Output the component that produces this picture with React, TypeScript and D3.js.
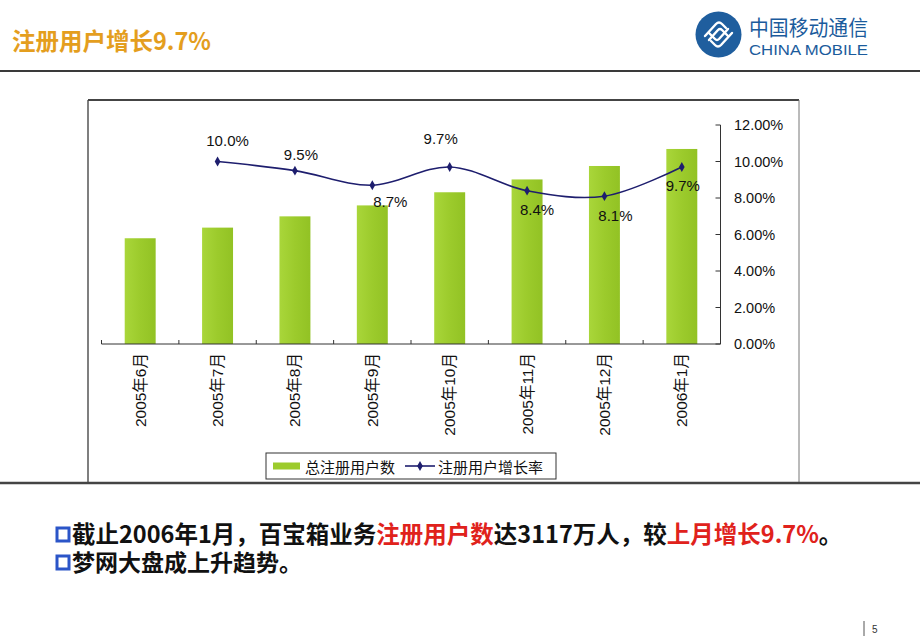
import React from "react";
import * as d3 from "d3";

const categories = ["2005年6月", "2005年7月", "2005年8月", "2005年9月", "2005年10月", "2005年11月", "2005年12月", "2006年1月"];
const totalUsers = [1690, 1860, 2040, 2215, 2425, 2630, 2845, 3117];
const growthRate: (number | null)[] = [null, 0.100, 0.095, 0.087, 0.097, 0.084, 0.081, 0.097];
const growthLabels = ["", "10.0%", "9.5%", "8.7%", "9.7%", "8.4%", "8.1%", "9.7%"];
const rateTicks = [0, 0.02, 0.04, 0.06, 0.08, 0.10, 0.12];
// label offsets (dx, dy) relative to each point, as placed in the original
const labelOffsets: [number, number][] = [[0, 0], [10, -21], [6, -16], [18, 16], [-9, -28], [10, 19], [11, 19], [1, 19]];

const W = 920, H = 637;
const plotLeft = 101.5, plotRight = 720.5, plotBottom = 344, plotTop = 125;
const sansFont = "'Liberation Sans', Arial, 'Noto Sans CJK SC', sans-serif";
const cjkFont = "'Noto Sans CJK SC', 'Noto Sans', sans-serif";
const barColor = "#9CCB2C";
const lineColor = "#1E1E6E";

export default function App() {
  const x = d3.scaleBand<string>().domain(categories).range([plotLeft, plotRight]).paddingInner(0.6).paddingOuter(0.3);
  const yBar = d3.scaleLinear().domain([0, 3500]).range([plotBottom, plotTop]);
  const yRate = d3.scaleLinear().domain([0, 0.12]).range([plotBottom, plotTop]);
  const step = x.step();
  const cx = (c: string) => (x(c) as number) + x.bandwidth() / 2;

  const pts = categories
    .map((c, i) => ({ c, i, v: growthRate[i] }))
    .filter((d) => d.v !== null) as { c: string; i: number; v: number }[];
  const lineGen = d3
    .line<{ c: string; v: number }>()
    .x((d) => cx(d.c))
    .y((d) => yRate(d.v))
    .curve(d3.curveCatmullRom.alpha(0.5));
  const pathD = lineGen(pts) || "";
  const diamond = d3.symbol().type(d3.symbolDiamond).size(28)() || "";
  const fmt = d3.format(".2%");

  const boundaries = d3.range(categories.length + 1).map((k) => plotLeft + k * step);

  return (
    <div style={{ position: "absolute", left: 0, top: 0 }}>
      <svg width={W} height={H} viewBox={`0 0 ${W} ${H}`} style={{ display: "block", background: "#fff" }}>
        <defs>
          <linearGradient id="barGrad" x1="0" x2="1" y1="0" y2="0">
            <stop offset="0" stopColor="#A9D63A" />
            <stop offset="0.5" stopColor="#9CCB2C" />
            <stop offset="1" stopColor="#92C224" />
          </linearGradient>
        </defs>
        {/* Header */}
        <text x={12} y={50} fontFamily={cjkFont} fontWeight={700} fontSize={23.5} fill="#E49E1E">注册用户增长9.7%</text>
        <line x1={0} x2={W} y1={71} y2={71} stroke="#3a3a3a" strokeWidth={2} />
        {/* Logo */}
        <g>
          <circle cx={718.5} cy={34.5} r={23} fill="#1F5E9E" />
          <g fill="none" stroke="#fff" strokeWidth={2.4} strokeLinecap="round" strokeLinejoin="round">
            <path d="M705,36 L716,24 Q719,21 722,24 L726,28" />
            <path d="M709,40 L718,30 Q720,28 722,30 L728,36" />
            <path d="M732,33 L721,45 Q718,48 715,45 L711,41" />
            <path d="M728,29 L719,39 Q717,41 715,39 L709,33" />
          </g>
          <text x={749} y={35} fontFamily={cjkFont} fontSize={21} fill="#1B5B9C" textLength={119} lengthAdjust="spacingAndGlyphs">中国移动通信</text>
          <text x={749} y={55} fontFamily={sansFont} fontSize={15.5} fill="#1B5B9C" textLength={119} lengthAdjust="spacingAndGlyphs">CHINA MOBILE</text>
        </g>

        {/* Chart frame */}
        <line x1={88} x2={88} y1={100} y2={483} stroke="#555" strokeWidth={1.5} />
        <line x1={88} x2={799} y1={100} y2={100} stroke="#444" strokeWidth={2} />
        <line x1={799} x2={799} y1={100} y2={483} stroke="#777" strokeWidth={1} />
        <line x1={0} x2={W} y1={483} y2={483} stroke="#444" strokeWidth={2.5} />

        {/* Bars */}
        {categories.map((c, i) => (
          <rect key={c} x={x(c)} y={yBar(totalUsers[i])} width={x.bandwidth()} height={plotBottom - yBar(totalUsers[i])} fill="url(#barGrad)" />
        ))}

        {/* X axis */}
        <line x1={plotLeft} x2={plotRight} y1={plotBottom} y2={plotBottom} stroke="#333" strokeWidth={1} />
        {boundaries.map((bx, k) => (
          <line key={k} x1={bx} x2={bx} y1={plotBottom} y2={plotBottom - 4} stroke="#333" strokeWidth={1} />
        ))}
        {categories.map((c) => (
          <text key={c} transform={`translate(${cx(c)},${plotBottom + 9}) rotate(-90)`} textAnchor="end" dominantBaseline="central" fontFamily={sansFont} fontSize={15.5} fill="#111">{c}</text>
        ))}

        {/* Right axis */}
        <line x1={plotRight} x2={plotRight} y1={yRate(0.12)} y2={plotBottom} stroke="#333" strokeWidth={1} />
        {rateTicks.map((t) => (
          <g key={t}>
            <line x1={plotRight - 5} x2={plotRight} y1={yRate(t)} y2={yRate(t)} stroke="#333" strokeWidth={1} />
            <text x={734} y={yRate(t)} dominantBaseline="central" fontFamily={sansFont} fontSize={14.5} fill="#111">{fmt(t)}</text>
          </g>
        ))}

        {/* Growth line */}
        <path d={pathD} fill="none" stroke={lineColor} strokeWidth={1.6} />
        {pts.map((d) => (
          <path key={d.c} d={diamond} transform={`translate(${cx(d.c)},${yRate(d.v)})`} fill={lineColor} />
        ))}
        {pts.map((d) => (
          <text key={d.c} x={cx(d.c) + labelOffsets[d.i][0]} y={yRate(d.v) + labelOffsets[d.i][1]} textAnchor="middle" dominantBaseline="central" fontFamily={sansFont} fontSize={15} fill="#111">{growthLabels[d.i]}</text>
        ))}

        {/* Legend */}
        <rect x={266} y={453} width={290} height={26} fill="#fff" stroke="#333" strokeWidth={1} />
        <rect x={273} y={462.5} width={27} height={7} fill={barColor} />
        <text x={305} y={466} dominantBaseline="central" fontFamily={cjkFont} fontSize={15} fill="#111">总注册用户数</text>
        <line x1={405} x2={435} y1={466} y2={466} stroke={lineColor} strokeWidth={1.6} />
        <path d={diamond} transform="translate(420,466)" fill={lineColor} />
        <text x={438} y={466} dominantBaseline="central" fontFamily={cjkFont} fontSize={15} fill="#111">注册用户增长率</text>

        {/* Bullets */}
        <rect x={57} y={528} width={12} height={13} fill="#fff" stroke="#2B55C8" strokeWidth={3} />
        <text x={72} y={543} fontFamily={cjkFont} fontWeight={700} fontSize={23.5} fill="#111">
          截止2006年1月，百宝箱业务<tspan fill="#E0221C">注册用户数</tspan>达3117万人，较<tspan fill="#E0221C">上月增长9.7%</tspan>。
        </text>
        <rect x={57} y={556} width={12} height={13} fill="#fff" stroke="#2B55C8" strokeWidth={3} />
        <text x={72} y={571} fontFamily={cjkFont} fontWeight={700} fontSize={23} fill="#111">梦网大盘成上升趋势。</text>

        {/* Page number */}
        <line x1={864} x2={864} y1={621} y2={636} stroke="#555" strokeWidth={1} />
        <text x={872} y={633} fontFamily={sansFont} fontSize={10} fill="#333">5</text>
      </svg>
    </div>
  );
}
